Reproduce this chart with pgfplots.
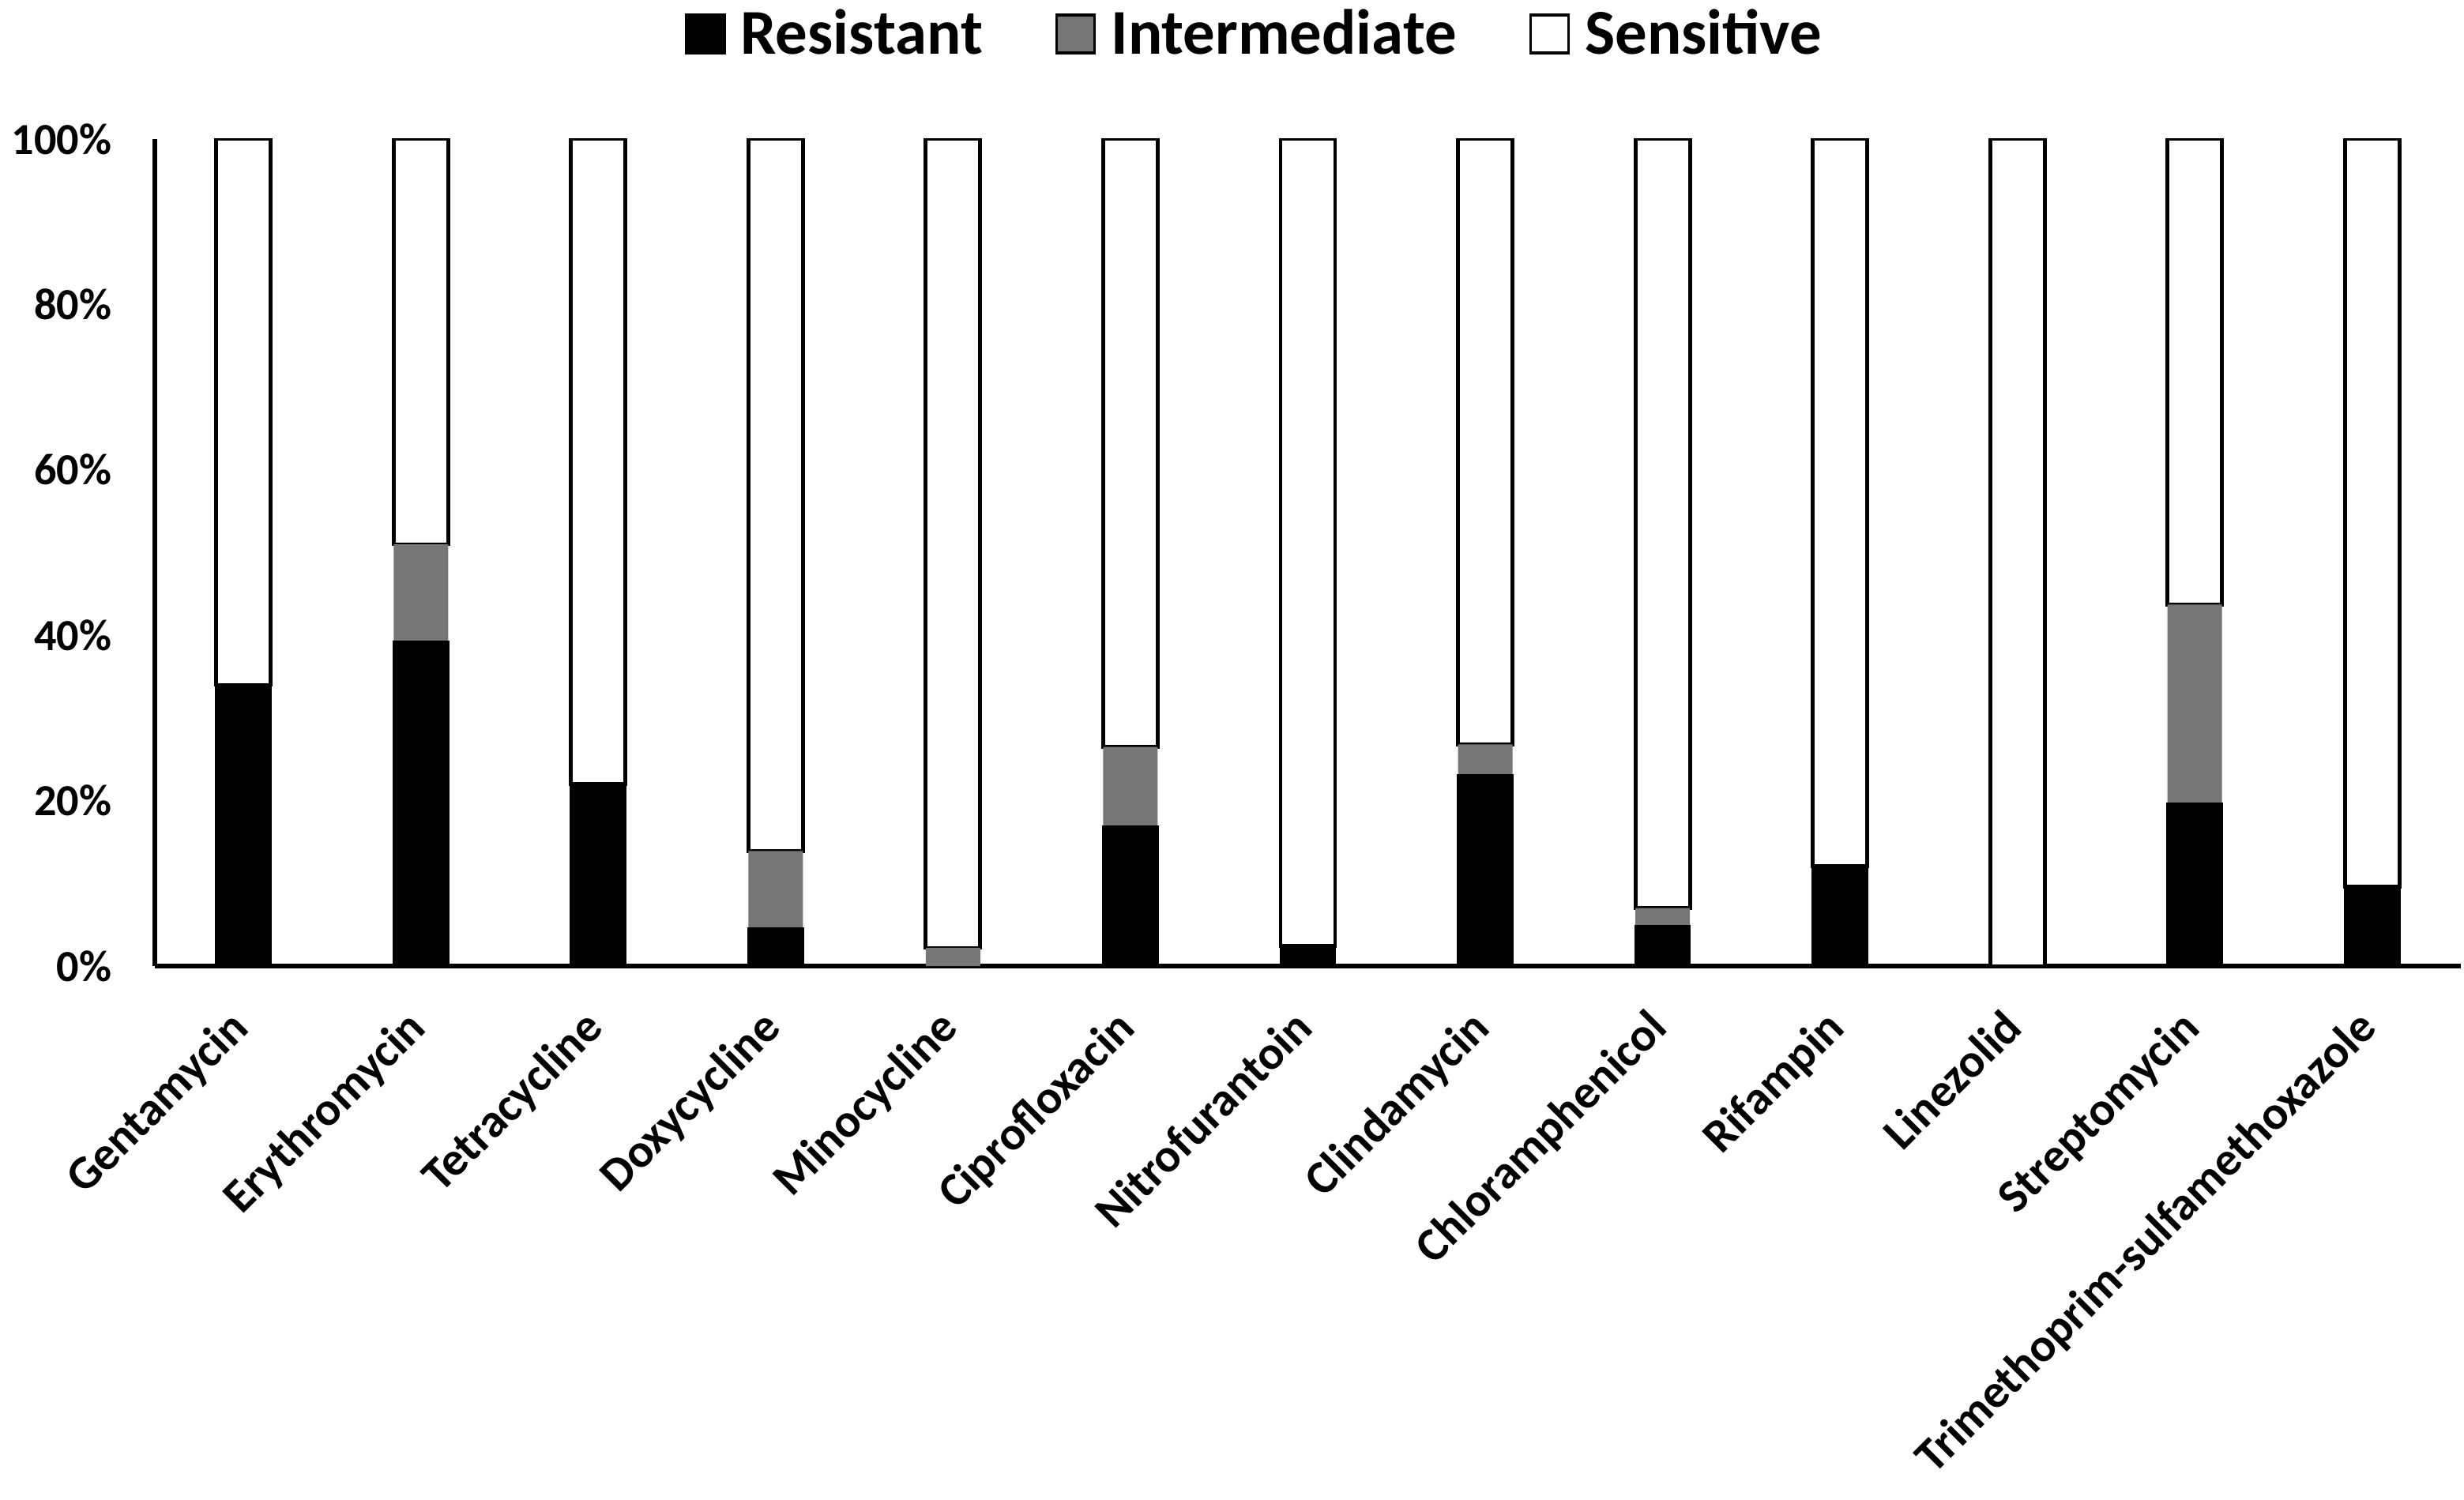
\documentclass[border=0pt]{standalone}
\usepackage{fontspec}
\setmainfont{Carlito}
\usepackage{pgfplots}
\pgfplotsset{compat=1.18}
\usepackage{pgfplotstable}

\pgfplotstableread{
x R I S
0 34.0 0.0 66.0
1 39.2 11.8 49.0
2 22.0 0.0 78.0
3 4.5 9.4 86.1
4 0.0 2.2 97.8
5 16.9 9.6 73.5
6 2.4 0.0 97.6
7 23.1 3.7 73.2
8 4.8 2.2 93.0
9 12.1 0.0 87.9
10 0.0 0.0 100.0
11 19.6 24.1 56.3
12 9.6 0.0 90.4
}\data

\definecolor{midgray}{RGB}{118,118,118}

\begin{document}
\begin{tikzpicture}
\useasboundingbox (-19.6mm,-67.6mm) rectangle (292.3mm,122.3mm);
\begin{axis}[
  at={(0,0)}, anchor=south west,
  width=291.9mm, height=104.7mm, scale only axis,
  ybar stacked, bar width=6.9mm,
  xmin=-0.5, xmax=12.5, ymin=0, ymax=100,
  xtick={0,...,12},
  xticklabels={Gentamycin,Erythromycin,Tetracycline,Doxycycline,Minocycline,Ciprofloxacin,Nitrofurantoin,Clindamycin,Chloramphenicol,Rifampin,Linezolid,Streptomycin,Trimethoprim-sulfamethoxazole},
  ytick={0,20,...,100},
  yticklabel={\pgfmathprintnumber{\tick}\%},
  /pgf/number format/assume math mode=true,
  axis lines*=left,
  axis line style={line width=1.8pt, black},
  major tick length=0pt,
  tick style={draw=none},
  yticklabel style={font=\bfseries\fontsize{16}{19}\selectfont, anchor=east, inner sep=0pt, xshift=-5.4mm},
  xticklabel style={font=\bfseries\fontsize{17}{20}\selectfont, rotate=45, anchor=north east, inner sep=0pt, xshift=-5.1mm, yshift=-2.1mm},
  legend columns=3,
  legend style={at={(0.4776,1.127)}, anchor=center, draw=none, fill=none,
    font=\bfseries\fontsize{23}{26}\selectfont,
    /tikz/every even column/.append style={column sep=8.5mm},
    /tikz/every odd column/.append style={column sep=1.2mm}},
  legend image code/.code={\draw[#1, draw=black, line width=1pt] (0mm,-2.4mm) rectangle (4.8mm,2.4mm);},
]
\addplot[fill=black, draw=black, line width=0.8pt] table[x=x, y=R]{\data};
\addplot[fill=midgray, draw=none] table[x=x, y=I]{\data};
\addplot[fill=white, draw=black, line width=1.4pt] table[x=x, y=S]{\data};
\legend{Resistant, Intermediate, Sensitive}
\end{axis}
\end{tikzpicture}
\end{document}
